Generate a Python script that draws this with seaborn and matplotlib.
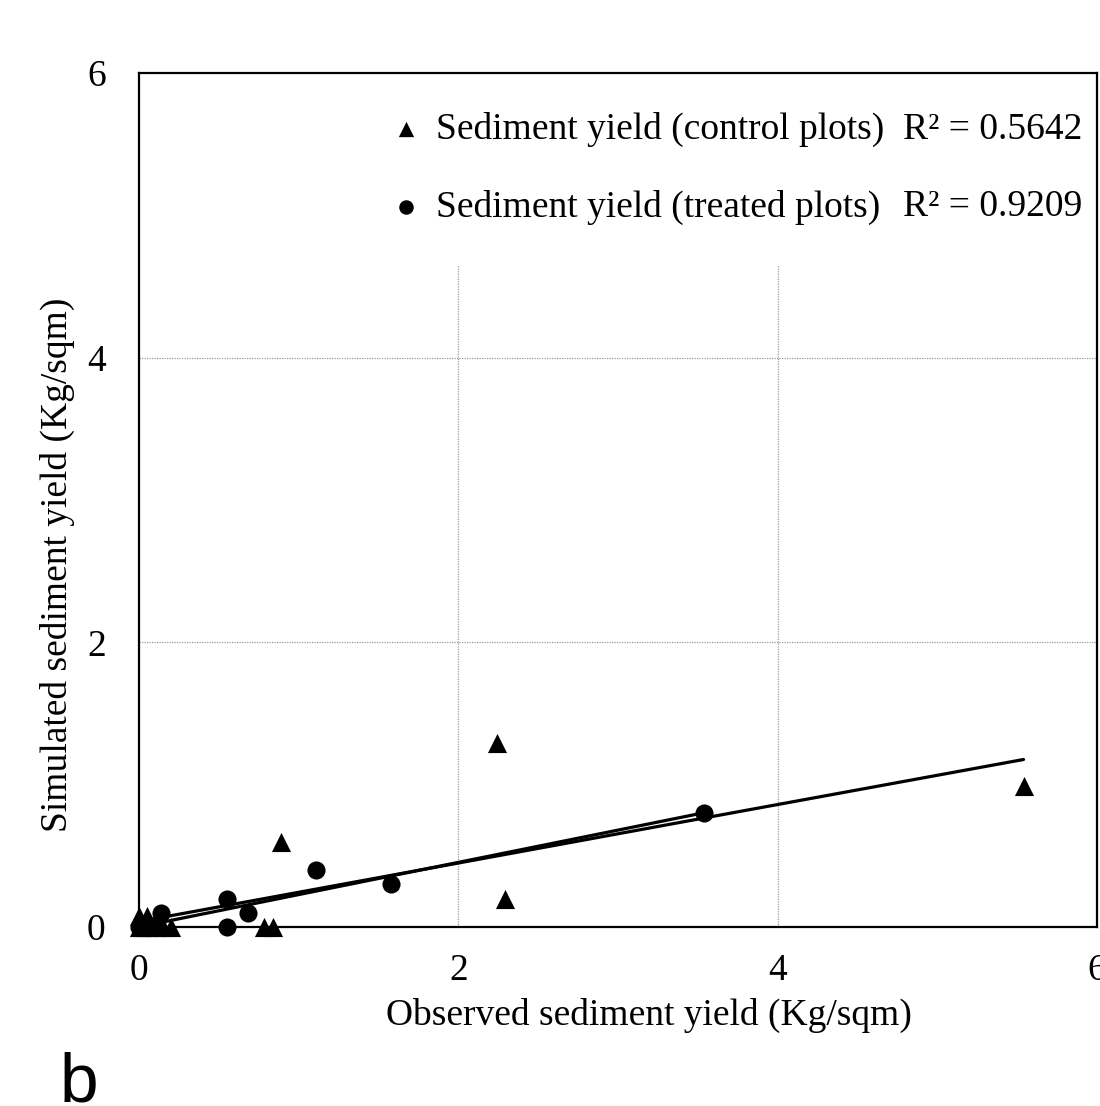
import numpy as np
import pandas as pd
import matplotlib
matplotlib.use("Agg")
import matplotlib.pyplot as plt
import seaborn as sns
from matplotlib.patches import Rectangle

# ---- data ----
control_obs = [0.00, 0.05, 0.00, 0.02, 0.05, 0.10, 0.15, 0.20, 0.78, 0.84, 0.89, 2.24, 2.29, 5.54]
control_sim = [0.08, 0.08, 0.00, 0.00, 0.00, 0.00, 0.00, 0.00, 0.00, 0.00, 0.60, 1.29, 0.20, 0.99]
treated_obs = [0.00, 0.03, 0.06, 0.10, 0.14, 0.55, 0.55, 0.68, 1.11, 1.58, 3.54]
treated_sim = [0.00, 0.00, 0.00, 0.00, 0.10, 0.20, 0.00, 0.10, 0.40, 0.30, 0.80]
series_labels = ["Sediment yield (control plots)", "Sediment yield (treated plots)"]
r2_labels = ["R² = 0.5642", "R² = 0.9209"]
x_ticks = [0, 2, 4, 6]
y_ticks = [0, 2, 4, 6]
x_label = "Observed sediment yield (Kg/sqm)"
y_label = "Simulated sediment yield (Kg/sqm)"
panel_label = "b"

sns.set_theme(style="white")
plt.rcParams["font.family"] = ["Liberation Serif", "DejaVu Serif"]

df_c = pd.DataFrame({"obs": control_obs, "sim": control_sim})
df_t = pd.DataFrame({"obs": treated_obs, "sim": treated_sim})

fig = plt.figure(figsize=(11.0, 11.06), dpi=100)
ax = fig.add_axes([139 / 1100, 1 - 927 / 1106, (1097 - 139) / 1100, (927 - 73) / 1106])

# grid
ax.set_axisbelow(True)
for v in [2, 4]:
    ax.axvline(v, color="#9a9a9a", lw=0.9, ls=(0, (1, 1)), zorder=0)
    ax.axhline(v, color="#9a9a9a", lw=0.9, ls=(0, (1, 1)), zorder=0)

# white legend box covering the grid
ax.add_patch(Rectangle((0.25, 0.775), 0.75, 0.225, transform=ax.transAxes,
                       facecolor="white", edgecolor="none", zorder=0.5))

# regression lines
sns.regplot(data=df_c, x="obs", y="sim", scatter=False, ci=None, truncate=True,
            color="black", line_kws={"lw": 2.3, "zorder": 2}, ax=ax)
sns.regplot(data=df_t, x="obs", y="sim", scatter=False, ci=None, truncate=True,
            color="black", line_kws={"lw": 2.3, "zorder": 2}, ax=ax)

# points
sns.scatterplot(data=df_c, x="obs", y="sim", marker="^", s=190, color="black",
                edgecolor="black", linewidth=0, ax=ax, zorder=3, label=series_labels[0],
                clip_on=False)
sns.scatterplot(data=df_t, x="obs", y="sim", marker="o", s=170, color="black",
                edgecolor="black", linewidth=0, ax=ax, zorder=3, label=series_labels[1],
                clip_on=False)

ax.set_xlim(0, 6)
ax.set_ylim(0, 6)
ax.set_xticks(x_ticks)
ax.set_yticks(y_ticks)
ax.set_xticklabels([str(t) for t in x_ticks])
ax.set_yticklabels([str(t) for t in y_ticks])
ax.tick_params(axis="both", direction="out", length=7, width=1, color="#666666",
               labelsize=27, labelcolor="black")
ax.tick_params(axis="x", pad=12)
ax.tick_params(axis="y", pad=17)

for sp in ax.spines.values():
    sp.set_color("black")
    sp.set_linewidth(1.6)

ax.set_xlabel(x_label, fontsize=27, color="black")
ax.set_ylabel(y_label, fontsize=27, color="black")
ax.xaxis.set_label_coords(0.532, -0.083)
ax.yaxis.set_label_coords(-0.067, 0.424)

leg = ax.legend(loc="upper left", bbox_to_anchor=(0.247, 0.972), frameon=False,
                fontsize=27, markerscale=0.8, handlelength=0.8, handletextpad=0.4,
                labelspacing=1.15, borderaxespad=0.0)
for txt in leg.get_texts():
    txt.set_color("black")

ax.text(0.7975, 0.933, r2_labels[0], transform=ax.transAxes, fontsize=27,
        va="center", ha="left", color="black", zorder=5)
ax.text(0.7975, 0.843, r2_labels[1], transform=ax.transAxes, fontsize=27,
        va="center", ha="left", color="black", zorder=5)

fig.text(60 / 1100, 4 / 1106, panel_label, fontsize=50, family=["Liberation Sans", "DejaVu Sans"],
         ha="left", va="baseline", color="black")

fig.savefig("out.png", dpi=100)
